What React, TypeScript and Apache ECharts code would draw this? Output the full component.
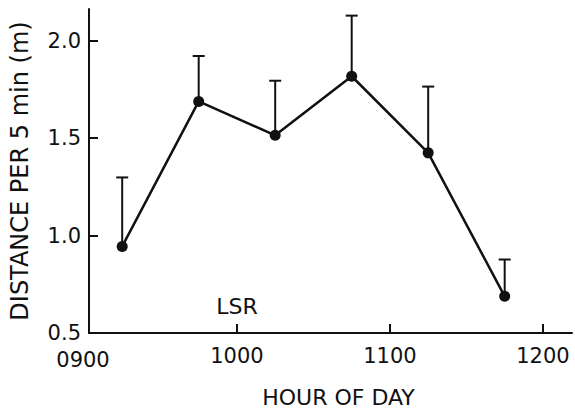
import { useEffect, useRef } from "react";
import * as echarts from "echarts";

const hours = [9.25, 9.75, 10.25, 10.75, 11.25, 11.75];
const meanDistance = [0.944, 1.688, 1.514, 1.817, 1.424, 0.688];
const upperError = [1.298, 1.921, 1.794, 2.128, 1.764, 0.877];
const xTickValues = [10, 11, 12];
const xTickLabels = ["1000", "1100", "1200"];
const xOriginLabel = "0900";
const yTickValues = [0.5, 1.0, 1.5, 2.0];
const lsrMark = { x: 10, y: 0.636, text: "LSR" };

const INK = "#111";
const FONT = "DejaVu Sans";

export default function App() {
  const ref = useRef<HTMLDivElement>(null);
  useEffect(() => {
    if (!ref.current) return;
    const chart = echarts.init(ref.current, undefined, { renderer: "svg" });
    const lineData = hours.map((h, i) => [h, meanDistance[i]]);
    const errData = hours.map((h, i) => [h, meanDistance[i], upperError[i]]);
    chart.setOption({
      animation: false,
      backgroundColor: "#fff",
      grid: { left: 87, right: 3, top: 9, bottom: 75, containLabel: false },
      xAxis: {
        type: "value",
        min: 9.033,
        max: 12.19,
        name: "HOUR OF DAY",
        nameLocation: "middle",
        nameGap: 53,
        nameTextStyle: { color: INK, fontSize: 22, fontFamily: FONT, padding: [0, 0, 0, 16] },
        axisLine: { show: true, lineStyle: { color: INK, width: 2 } },
        axisTick: { show: true, inside: true, length: 9, lineStyle: { color: INK, width: 2 }, customValues: xTickValues },
        axisLabel: {
          color: INK,
          fontSize: 21,
          fontFamily: FONT,
          margin: 12,
          customValues: xTickValues,
          formatter: (v: number) => {
            const i = xTickValues.findIndex((t) => Math.abs(t - v) < 1e-6);
            return i >= 0 ? xTickLabels[i] : "";
          },
        },
        splitLine: { show: false },
      },
      yAxis: {
        type: "value",
        min: 0.5,
        max: 2.162,
        interval: 0.5,
        name: "DISTANCE PER 5 min (m)",
        nameLocation: "middle",
        nameGap: 57,
        nameTextStyle: { color: INK, fontSize: 24, fontFamily: FONT },
        axisLine: { show: true, lineStyle: { color: INK, width: 2 } },
        axisTick: { show: true, inside: true, length: 9, lineStyle: { color: INK, width: 2 }, customValues: yTickValues },
        axisLabel: {
          color: INK,
          fontSize: 21,
          fontFamily: FONT,
          margin: 8,
          customValues: yTickValues,
          formatter: (v: number) => v.toFixed(1),
        },
        splitLine: { show: false },
      },
      graphic: [
        {
          type: "text",
          x: 83,
          y: 360,
          style: { text: xOriginLabel, fill: INK, fontSize: 21, fontFamily: FONT, align: "center", verticalAlign: "middle" },
        },
      ],
      series: [
        {
          type: "custom",
          data: errData,
          z: 2,
          renderItem: (_params: any, api: any) => {
            const p = api.coord([api.value(0), api.value(1)]);
            const t = api.coord([api.value(0), api.value(2)]);
            return {
              type: "group",
              children: [
                { type: "line", shape: { x1: p[0], y1: p[1], x2: t[0], y2: t[1] }, style: { stroke: INK, lineWidth: 2 } },
                { type: "line", shape: { x1: t[0] - 6, y1: t[1], x2: t[0] + 6, y2: t[1] }, style: { stroke: INK, lineWidth: 2 } },
              ],
            };
          },
        },
        {
          type: "line",
          data: lineData,
          z: 3,
          symbol: "circle",
          symbolSize: 11,
          lineStyle: { color: INK, width: 2.5 },
          itemStyle: { color: INK },
        },
        {
          type: "scatter",
          data: [[lsrMark.x, lsrMark.y]],
          symbolSize: 0,
          itemStyle: { opacity: 1 },
          label: {
            show: true,
            position: "inside",
            formatter: lsrMark.text,
            color: INK,
            opacity: 1,
            fontSize: 22,
            fontFamily: FONT,
          },
        },
      ],
    });
    return () => chart.dispose();
  }, []);
  return <div ref={ref} style={{ position: "fixed", left: 0, top: 0, width: 575, height: 413 }} />;
}
